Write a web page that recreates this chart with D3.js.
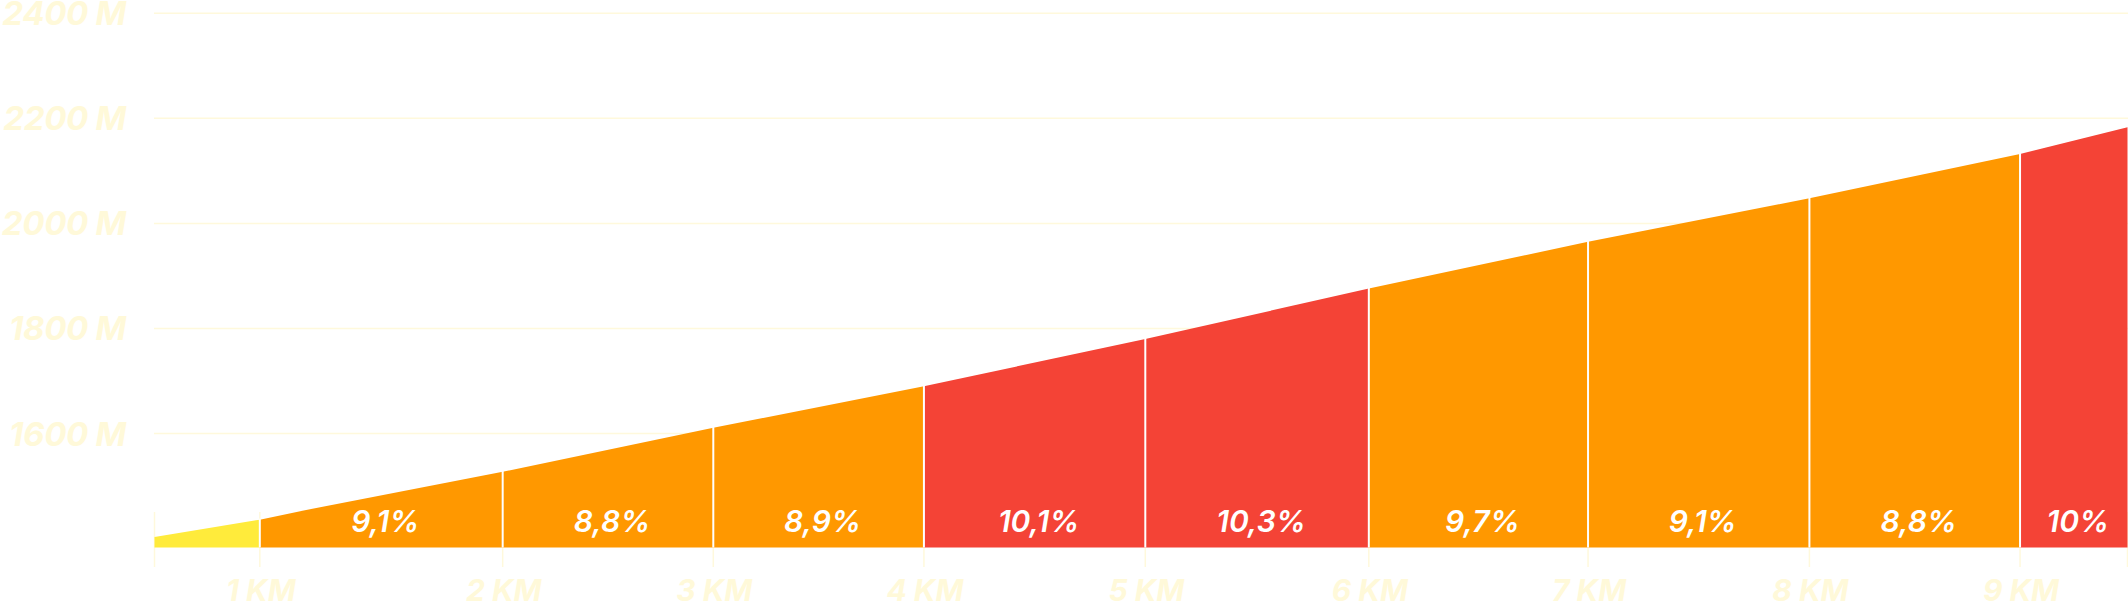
<!DOCTYPE html>
<html>
<head>
<meta charset="utf-8">
<script src="https://cdn.jsdelivr.net/npm/d3@7"></script>
<style>
  html, body { margin: 0; padding: 0; background: #ffffff; }
  svg { display: block; }
  text { font-family: "Inter", "Lato", "Open Sans", sans-serif; font-style: italic; }
</style>
</head>
<body>
<svg id="chart" width="2128" height="608"></svg>
<script>
// ---- data ----
const profileKm   = [0, 0.49, 0.70, 1.62, 2.60, 3.58, 4.61, 5.65, 6.67, 7.70, 8.68, 9.18];
const profileElev = [1403, 1436, 1454, 1527, 1611, 1690, 1780, 1876, 1965, 2048, 2132, 2183];
const boundariesKm = [0, 0.49, 1.62, 2.60, 3.58, 4.61, 5.65, 6.67, 7.70, 8.68, 9.18];
const kmLabels = ["", "1 KM", "2 KM", "3 KM", "4 KM", "5 KM", "6 KM", "7 KM", "8 KM", "9 KM", ""];
const grades = [6.7, 9.1, 8.8, 8.9, 10.1, 10.3, 9.7, 9.1, 8.8, 10.0];
const gradeLabels = ["", "9,1%", "8,8%", "8,9%", "10,1%", "10,3%", "9,7%", "9,1%", "8,8%", "10%"];
const elevTicks = [1600, 1800, 2000, 2200, 2400];
const elevTickLabels = ["1600 M", "1800 M", "2000 M", "2200 M", "2400 M"];
const baseElev = 1383;

// ---- drawing ----
const svg = d3.select("#chart");
const W = 2128, H = 608;
const x = d3.scaleLinear().domain([0, 9.18]).range([154.5, 2127.5]);
const y = d3.scaleLinear().domain([baseElev, 2400]).range([547.5, 13.3]);

const pale = "#FFF9DC";
const paleText = "#FFF9D9";
const colorFor = g => g < 8 ? "#FFEB3B" : (g < 10 ? "#FF9800" : "#F44336");

// gridlines
svg.append("g").selectAll("line").data(elevTicks).join("line")
  .attr("x1", 154).attr("x2", W)
  .attr("y1", d => y(d)).attr("y2", d => y(d))
  .attr("stroke", pale).attr("stroke-width", 1.5);

// y labels
svg.append("g").selectAll("text").data(elevTicks).join("text")
  .attr("x", 126).attr("y", d => y(d) + 12)
  .attr("text-anchor", "end")
  .attr("font-size", 33).attr("font-weight", 700)
  .attr("letter-spacing", -0.3)
  .attr("fill", paleText)
  .text((d, i) => elevTickLabels[i]);

// x ticks (behind area)
svg.append("g").selectAll("line").data(boundariesKm).join("line")
  .attr("x1", d => x(d)).attr("x2", d => x(d))
  .attr("y1", 512).attr("y2", 567)
  .attr("stroke", pale).attr("stroke-width", 1.5);

// area segments
const area = d3.area()
  .x(d => x(d[0]))
  .y0(y(baseElev))
  .y1(d => y(d[1]));
const pts = profileKm.map((k, i) => [k, profileElev[i]]);
const segs = d3.range(boundariesKm.length - 1).map(i => {
  const a = boundariesKm[i], b = boundariesKm[i + 1];
  return { i, a, b, pts: pts.filter(p => p[0] >= a - 1e-9 && p[0] <= b + 1e-9) };
});
svg.append("g").selectAll("path").data(segs).join("path")
  .attr("d", s => area(s.pts))
  .attr("fill", s => colorFor(grades[s.i]));

// white separators
const elevAt = k => profileElev[profileKm.findIndex(v => Math.abs(v - k) < 1e-9)];
svg.append("g").selectAll("line").data(boundariesKm.slice(1, -1)).join("line")
  .attr("x1", d => x(d)).attr("x2", d => x(d))
  .attr("y1", y(baseElev)).attr("y2", d => y(elevAt(d)) - 1)
  .attr("stroke", "#ffffff").attr("stroke-width", 2);

// grade labels
svg.append("g").selectAll("text").data(segs.filter(s => gradeLabels[s.i] !== "")).join("text")
  .attr("x", s => (x(s.a) + x(s.b)) / 2 + 4)
  .attr("y", 532)
  .attr("text-anchor", "middle")
  .attr("font-size", 30).attr("font-weight", 600)
  .attr("fill", "#ffffff")
  .text(s => gradeLabels[s.i]);

// x labels
svg.append("g").selectAll("text").data(boundariesKm.map((k, i) => ({ k, t: kmLabels[i] })).filter(d => d.t !== "")).join("text")
  .attr("x", d => x(d.k) + 1)
  .attr("y", 601)
  .attr("text-anchor", "middle")
  .attr("font-size", 30).attr("font-weight", 700)
  .attr("fill", paleText)
  .text(d => d.t);
</script>
</body>
</html>
